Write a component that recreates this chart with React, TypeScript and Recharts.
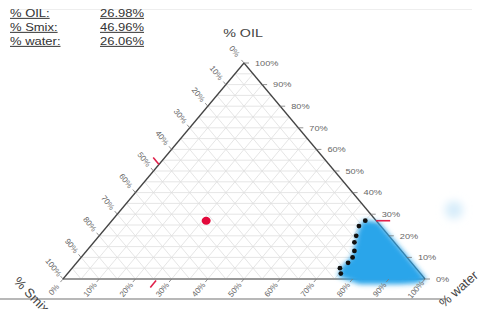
import React from "react";
import { ScatterChart, Scatter, XAxis, YAxis, ReferenceLine } from "recharts";

// ---- data ----
const OIL_PCT = 26.98;
const SMIX_PCT = 46.96;
const WATER_PCT = 26.06;

const TICKS = [0, 10, 20, 30, 40, 50, 60, 70, 80, 90, 100];
const GRID = [5, 10, 15, 20, 25, 30, 35, 40, 45, 50, 55, 60, 65, 70, 75, 80, 85, 90, 95];

// boundary points (black dots)
const dotOil = [27, 24.5, 20, 17, 13, 10, 7.5, 5, 2.5];
const dotSmix = [3, 6, 9, 11, 13, 15, 17.5, 21, 22];
const dotWater = [70, 69.5, 71, 72, 74, 75, 75, 74, 75.5];

// blue region outline
const blobOil = [26.8, 26, 13, 0, -1.5, -2, -2, 1.5, 6, 10, 16, 22.5];
const blobSmix = [3.4, 0, 0, 0, 3, 8, 19, 23, 19.5, 15, 11, 7];
const blobWater = [69.8, 74, 87, 100, 98.5, 94, 83, 75.5, 74.5, 75, 73, 70.5];

// faint spot
const ghostOil = [32];
const ghostSmix = [-24];
const ghostWater = [92];

// ---- helpers ----
const toXY = (oil: number, smix: number, water: number) => ({
  x: (water + oil / 2) / 100,
  y: oil / 100,
});

const dots = dotOil.map((o, i) => toXY(o, dotSmix[i], dotWater[i]));
const blob = blobOil.map((o, i) => toXY(o, blobSmix[i], blobWater[i]));
const ghost = ghostOil.map((o, i) => toXY(o, ghostSmix[i], ghostWater[i]));
const current = [toXY(OIL_PCT, SMIX_PCT, WATER_PCT)];

const rightTicks = TICKS.map((t) => ({ ...toXY(t, 0, 100 - t), label: `${t}%` }));
const leftTicks = TICKS.map((t) => ({ ...toXY(100 - t, t, 0), label: `${t}%` }));
const bottomTicks = TICKS.map((t) => ({ ...toXY(0, 100 - t, t), label: `${t}%` }));

const redRight = [toXY(OIL_PCT, 0, 100 - OIL_PCT)];
const redLeft = [toXY(100 - SMIX_PCT, SMIX_PCT, 0)];
const redBottom = [toXY(0, 100 - WATER_PCT, WATER_PCT)];

const FONT = "'Liberation Sans', Arial, sans-serif";
const TICK_COLOR = "#666";
const U = { x: -0.644, y: -0.765 }; // outward along left axis ticks
const V = { x: -0.64, y: 0.768 }; // outward along bottom axis ticks

const RightTick = (p: any) => (
  <g>
    <line x1={p.cx} y1={p.cy} x2={p.cx + 5} y2={p.cy} stroke="#777" strokeWidth={0.8} />
    <text x={p.cx + 11} y={p.cy} dominantBaseline="central" fontSize={8} fill={TICK_COLOR} fontFamily={FONT}
      transform={`translate(${p.cx + 11} 0) scale(1.15 1) translate(${-(p.cx + 11)} 0)`}>
      {p.payload.label}
    </text>
  </g>
);
const LeftTick = (p: any) => {
  const tx = p.cx + U.x * 15;
  const ty = p.cy + U.y * 15;
  return (
    <g>
      <line x1={p.cx} y1={p.cy} x2={p.cx + U.x * 4} y2={p.cy + U.y * 4} stroke="#777" strokeWidth={0.8} />
      <text x={tx} y={ty} textAnchor="middle" dominantBaseline="central" fontSize={8} fill={TICK_COLOR} fontFamily={FONT} transform={`rotate(52 ${tx} ${ty})`}>
        {p.payload.label}
      </text>
    </g>
  );
};
const BottomTick = (p: any) => {
  const tx = p.cx + V.x * 14;
  const ty = p.cy + V.y * 14;
  return (
    <g>
      <line x1={p.cx} y1={p.cy} x2={p.cx + V.x * 4} y2={p.cy + V.y * 4} stroke="#777" strokeWidth={0.8} />
      <text x={tx} y={ty} textAnchor="middle" dominantBaseline="central" fontSize={8} fill={TICK_COLOR} fontFamily={FONT} transform={`rotate(-50 ${tx} ${ty})`}>
        {p.payload.label}
      </text>
    </g>
  );
};
const RED = "#e0204a";
const RedRightMark = (p: any) => <line x1={p.cx} y1={p.cy} x2={p.cx + 14} y2={p.cy} stroke={RED} strokeWidth={1.6} />;
const RedLeftMark = (p: any) => (
  <line x1={p.cx} y1={p.cy} x2={p.cx + U.x * 9} y2={p.cy + U.y * 9} stroke={RED} strokeWidth={1.6} />
);
const RedBottomMark = (p: any) => (
  <line x1={p.cx + V.x * 2} y1={p.cy + V.y * 2} x2={p.cx + V.x * 11} y2={p.cy + V.y * 11} stroke={RED} strokeWidth={1.6} />
);

const BlobLine = (p: any) => (
  <g>
    <defs>
      <filter id="blobBlur" x="-30%" y="-30%" width="160%" height="160%">
        <feGaussianBlur stdDeviation="2.8" />
      </filter>
    </defs>
    <polygon
      points={(p.points || []).map((q: any) => `${q.x},${q.y}`).join(" ")}
      fill="#2aa5ea"
      stroke="#2aa5ea"
      strokeWidth={2}
      filter="url(#blobBlur)"
    />
  </g>
);
const GhostShape = (p: any) => (
  <g>
    <defs>
      <filter id="ghostBlur" x="-100%" y="-100%" width="300%" height="300%">
        <feGaussianBlur stdDeviation="4" />
      </filter>
    </defs>
    <circle cx={p.cx} cy={p.cy} r={9} fill="#d6ecfa" filter="url(#ghostBlur)" />
  </g>
);
const Empty = () => <g />;

// plot geometry: unit triangle spans 362 x 216 px; domains padded so all data fits
const X_DOMAIN = [0, 1.1];
const Y_DOMAIN = [-0.05, 1];
const LEFT = 63;
const TOP = 63;
const RIGHT = 484 - 63 - 362 * 1.1;
const BOTTOM = 309 - 63 - 216 * 1.05;

const stretch = (x: number) => `translate(${x} 0) scale(1.3 1) translate(${-x} 0)`;

export default function App() {
  const gridLines: React.ReactNode[] = [];
  GRID.forEach((g) => {
    const a1 = toXY(g, 100 - g, 0), a2 = toXY(g, 0, 100 - g);
    const b1 = toXY(100 - g, g, 0), b2 = toXY(0, g, 100 - g);
    const c1 = toXY(100 - g, 0, g), c2 = toXY(0, 100 - g, g);
    [[a1, a2], [b1, b2], [c1, c2]].forEach((seg, i) =>
      gridLines.push(
        <ReferenceLine key={`g${g}-${i}`} segment={seg as any} stroke="#dedede" strokeWidth={0.8} ifOverflow="visible" />
      )
    );
  });
  const apex = toXY(100, 0, 0), bl = toXY(0, 100, 0), br = toXY(0, 0, 100);

  return (
    <div style={{ position: "absolute", left: 0, top: 0, width: 484, height: 309, background: "#fff", overflow: "hidden" }}>
      <ScatterChart width={484} height={309} margin={{ top: TOP, right: RIGHT, bottom: BOTTOM, left: LEFT }}>
        <XAxis type="number" dataKey="x" domain={X_DOMAIN} hide />
        <YAxis type="number" dataKey="y" domain={Y_DOMAIN} hide />
        {gridLines}
        <ReferenceLine segment={[bl, br] as any} stroke="#9a9a9a" strokeWidth={2} ifOverflow="visible" />
        <ReferenceLine segment={[bl, apex] as any} stroke="#444" strokeWidth={1.3} ifOverflow="visible" />
        <ReferenceLine segment={[apex, br] as any} stroke="#444" strokeWidth={1.3} ifOverflow="visible" />
        <Scatter data={ghost} shape={GhostShape} isAnimationActive={false} />
        <Scatter data={blob} shape={Empty} line={BlobLine} lineType="joint" isAnimationActive={false} />
        <Scatter data={rightTicks} shape={RightTick} isAnimationActive={false} />
        <Scatter data={leftTicks} shape={LeftTick} isAnimationActive={false} />
        <Scatter data={bottomTicks} shape={BottomTick} isAnimationActive={false} />
        <Scatter data={redRight} shape={RedRightMark} isAnimationActive={false} />
        <Scatter data={redLeft} shape={RedLeftMark} isAnimationActive={false} />
        <Scatter data={redBottom} shape={RedBottomMark} isAnimationActive={false} />
        <Scatter
          data={dots}
          shape={(p: any) => <circle cx={p.cx} cy={p.cy} r={2.4} fill="#111" />}
          isAnimationActive={false}
        />
        <Scatter
          data={current}
          shape={(p: any) => <ellipse cx={p.cx} cy={p.cy} rx={4.5} ry={4} fill="#e3093b" />}
          isAnimationActive={false}
        />
      </ScatterChart>
      <svg width={484} height={309} style={{ position: "absolute", left: 0, top: 0, pointerEvents: "none" }}>
        <line x1={14} y1={9.5} x2={472} y2={9.5} stroke="#eeeeee" strokeWidth={1} />
        <line x1={0} y1={299} x2={446} y2={299} stroke="#a0a0a0" strokeWidth={1.5} />
        <g fontFamily={FONT} fontSize={10} fill="#333" textDecoration="underline">
          <text x={10} y={17} transform={stretch(10)}>% OIL:</text>
          <text x={100} y={17} transform={stretch(100)}>{`${OIL_PCT.toFixed(2)}%`}</text>
          <text x={10} y={31} transform={stretch(10)}>% Smix:</text>
          <text x={100} y={31} transform={stretch(100)}>{`${SMIX_PCT.toFixed(2)}%`}</text>
          <text x={10} y={45} transform={stretch(10)}>% water:</text>
          <text x={100} y={45} transform={stretch(100)}>{`${WATER_PCT.toFixed(2)}%`}</text>
        </g>
        <text x={243} y={37} textAnchor="middle" fontFamily={FONT} fontSize={11} fill="#444" transform={stretch(243)}>% OIL</text>
        <text x={13} y={282} fontFamily={FONT} fontSize={13} fill="#444" transform="rotate(46 13 282)">% Smix</text>
        <text x={444} y={308} fontFamily={FONT} fontSize={13} fill="#444" transform="rotate(-42 444 308)">% water</text>
      </svg>
    </div>
  );
}
